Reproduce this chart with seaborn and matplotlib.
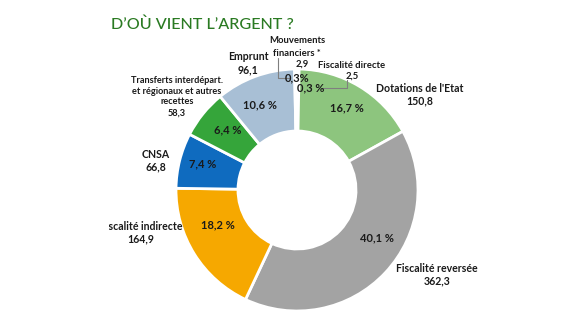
import matplotlib
matplotlib.use("Agg")
import matplotlib.pyplot as plt
import seaborn as sns
from matplotlib.patches import Rectangle

sns.set_theme(style="white")
plt.rcParams['font.family'] = ['Lato', 'DejaVu Sans']

# ---- data ----
categories = ["Fiscalité directe", "Dotations de l'Etat", "Fiscalité reversée",
              "Fiscalité indirecte", "CNSA",
              "Transferts interdépart.\net régionaux et autres\nrecettes",
              "Emprunt", "Mouvements\nfinanciers *"]
values = [2.5, 150.8, 362.3, 164.9, 66.8, 58.3, 96.1, 2.9]
value_labels = ["2,5", "150,8", "362,3", "164,9", "66,8", "58,3", "96,1", "2,9"]
pct_labels = ["0,3 %", "16,7 %", "40,1 %", "18,2 %", "7,4 %", "6,4 %", "10,6 %", "0,3%"]
colors = ["#1f3a66", "#8dc57e", "#a3a3a3", "#f6a800", "#0f6bbf",
          "#35a53a", "#a8bfd5", "#e3192b"]
title = "D’OÙ VIENT L’ARGENT ?"

W, H = 576, 323
fig = plt.figure(figsize=(W / 100, H / 100), dpi=100)
ax = fig.add_axes([0, 0, 1, 1])

def Y(y):
    return H - y

cx, cy, R = 297, Y(190), 121
wedges, _ = ax.pie(values, colors=colors, startangle=90, counterclock=False,
                   center=(cx, cy), radius=R, frame=True,
                   wedgeprops=dict(width=R - 59, edgecolor="white", linewidth=2))
ax.set_xlim(0, W)
ax.set_ylim(0, H)
ax.set_aspect("equal")
ax.axis("off")

dark = "#1a1a1a"
# percentage labels
pct_pos = [(311, 88), (347, 108), (377, 238), (218, 225), (203, 164), (228, 130), (260, 105), (297, 78)]
for (x, y), t in zip(pct_pos, pct_labels):
    ax.text(x, Y(y), t, ha="center", va="center", fontsize=8, fontweight="bold", color=dark)

# outer labels (name, value)
lab_fs = 7.6
outer = [
    (352, 65, 76, 6.8, 1.12),
    (420, 88, 101, lab_fs, 1.12),
    (437, 268, 281, lab_fs, 1.12),
    (141, 226, 239, lab_fs, 1.12),
    (156, 154, 167, lab_fs, 1.12),
    (177, 91, 113, 6.6, 1.2),
    (248, 57, 70, lab_fs, 1.12),
    (297, 47, 64, 6.8, 1.45),
]
for i, (x, yn, yv, fs, ls) in enumerate(outer):
    t = ax.text(x, Y(yn), categories[i], ha="center", va="center", fontsize=fs,
                fontweight="bold", color=dark, linespacing=ls)
    if i == 3:
        clip = Rectangle((109, 0), W, H, transform=ax.transData, visible=False)
        ax.add_patch(clip)
        t.set_clip_on(True)
        t.set_clip_path(clip)
    vx = 302 if i == 7 else x
    ax.text(vx, Y(yv), value_labels[i], ha="center", va="center", fontsize=fs,
            fontweight="bold", color=dark)

# leader lines
lc = "#7f7f7f"
ax.plot([278, 278, 289], [Y(58), Y(78), Y(78)], color=lc, lw=0.8)
ax.plot([347, 347, 322], [Y(80), Y(88), Y(88)], color=lc, lw=0.8)

ax.text(111, Y(25), title, ha="left", va="center", fontsize=11.6,
        color="#2a7a22", fontweight="medium")

fig.savefig("out.png", dpi=100)
